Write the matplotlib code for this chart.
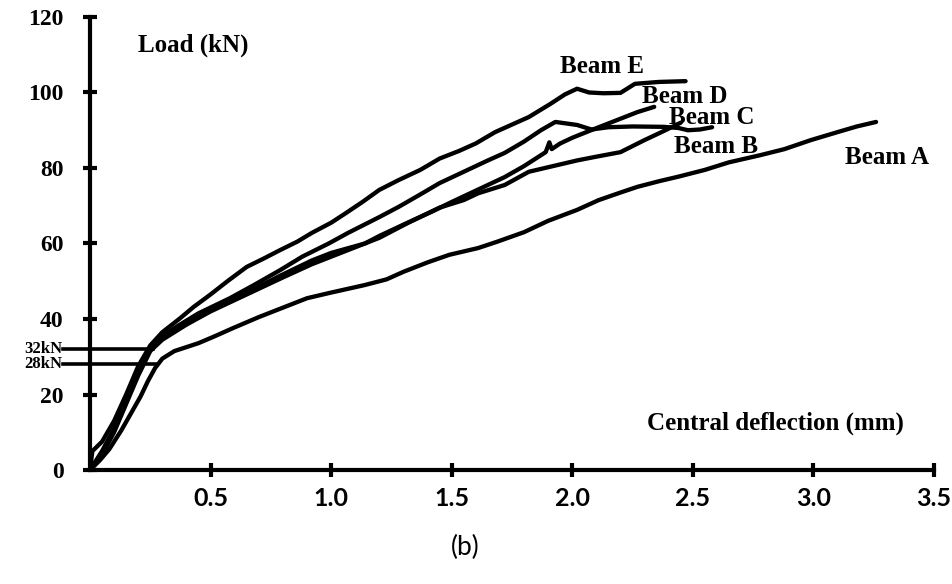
import matplotlib
matplotlib.use("Agg")
import matplotlib.pyplot as plt

# load-deflection curves (deflection mm, load kN)
beam_a_x = [0, 0.04, 0.08, 0.13, 0.17, 0.21, 0.24, 0.27, 0.3, 0.35, 0.45, 0.52, 0.59, 0.7, 0.8,
            0.9, 1.0, 1.14, 1.23, 1.3, 1.4, 1.49, 1.61, 1.69, 1.8, 1.9, 2.02, 2.11, 2.2, 2.27,
            2.36, 2.44, 2.55, 2.65, 2.78, 2.88, 2.99, 3.1, 3.18, 3.26]
beam_a_y = [0, 2.5, 5.5, 10.5, 15, 19.5, 23.5, 27, 29.5, 31.5, 33.6, 35.5, 37.5, 40.5, 43,
            45.5, 47, 49, 50.5, 52.5, 55, 57, 58.8, 60.5, 63, 66, 68.9, 71.5, 73.5, 75,
            76.5, 77.7, 79.5, 81.5, 83.4, 85, 87.4, 89.5, 91, 92.2]

beam_b_x = [0, 0.05, 0.1, 0.15, 0.2, 0.25, 0.3, 0.4, 0.5, 0.6, 0.7, 0.8, 0.92, 1.0, 1.1, 1.2,
            1.32, 1.45, 1.55, 1.61, 1.72, 1.82, 1.92, 2.02, 2.1, 2.2, 2.3, 2.37, 2.45]
beam_b_y = [0, 4, 10, 17.5, 25, 31.5, 34.5, 38.5, 42, 45, 48, 51, 54.5, 56.5, 59, 61.5,
            65.5, 69.5, 71.5, 73.3, 75.5, 79, 80.5, 82, 83, 84.2, 87.4, 89.5, 92]

beam_c_x = [0, 0.05, 0.1, 0.15, 0.2, 0.25, 0.3, 0.36, 0.45, 0.58, 0.68, 0.79, 0.88, 0.99, 1.07,
            1.2, 1.28, 1.37, 1.45, 1.55, 1.65, 1.72, 1.8, 1.87, 1.93, 2.02, 2.08, 2.15, 2.25,
            2.38, 2.44, 2.48, 2.53, 2.58]
beam_c_y = [0, 5, 11, 18.5, 26.5, 32.5, 35.5, 38, 41.5, 45.5, 49, 53, 56.5, 60, 62.8,
            67, 69.7, 73, 76, 79, 82, 84, 87, 90, 92.2, 91.4, 90.2, 90.8, 91,
            90.9, 90.6, 90, 90.2, 90.8]

beam_d_x = [0, 0.05, 0.1, 0.15, 0.2, 0.25, 0.32, 0.4, 0.5, 0.58, 0.65, 0.79, 0.92, 1.0, 1.14,
            1.2, 1.3, 1.42, 1.5, 1.6, 1.72, 1.8, 1.89, 1.905, 1.915, 1.95, 2.0, 2.07, 2.15,
            2.27, 2.34]
beam_d_y = [0, 4.5, 10.5, 18, 26, 32.5, 36, 39, 42.5, 45, 47, 51.5, 55.5, 57.5, 60,
            62, 65, 68.5, 71, 74, 77.6, 80.5, 84.2, 86.8, 85, 86.5, 88, 89.8, 91.8,
            94.8, 96.2]

beam_e_x = [0, 0.01, 0.05, 0.1, 0.15, 0.2, 0.25, 0.3, 0.37, 0.43, 0.5, 0.57, 0.65, 0.72, 0.79,
            0.86, 0.92, 1.0, 1.06, 1.13, 1.2, 1.28, 1.37, 1.45, 1.53, 1.6, 1.68, 1.75, 1.82,
            1.91, 1.97, 2.02, 2.07, 2.13, 2.2, 2.26, 2.36, 2.47]
beam_e_y = [0, 5, 7.5, 13, 20, 27.5, 33, 36.5, 40, 43.2, 46.5, 50, 53.8, 56, 58.3,
            60.5, 62.8, 65.5, 68, 71, 74.2, 76.8, 79.5, 82.5, 84.5, 86.5, 89.5, 91.5, 93.5,
            97, 99.5, 101, 100, 99.8, 99.9, 102.3, 102.8, 103]

beam_names = ["Beam A", "Beam B", "Beam C", "Beam D", "Beam E"]
label_x = [3.13, 2.42, 2.40, 2.29, 1.95]
label_y = [82.9, 85.8, 93.5, 99.0, 106.8]

marked_loads = [32, 28]
marked_ends = [0.26, 0.28]
x_ticks = [0.5, 1.0, 1.5, 2.0, 2.5, 3.0, 3.5]
y_ticks = [0, 20, 40, 60, 80, 100, 120]

serif = "Liberation Serif"

fig = plt.figure(figsize=(9.53, 5.84), dpi=100)
ax = fig.add_axes([0.0944, 0.1952, 0.8856, 0.7757])

curves = [(beam_a_x, beam_a_y), (beam_b_x, beam_b_y), (beam_c_x, beam_c_y),
          (beam_d_x, beam_d_y), (beam_e_x, beam_e_y)]
for xs, ys in curves:
    ax.plot(xs, ys, color="black", lw=3.1, solid_joinstyle="round", solid_capstyle="round")

for name, tx, ty in zip(beam_names, label_x, label_y):
    ax.text(tx, ty, name, fontsize=18, fontweight="bold", family=serif, va="center", ha="left")

# the two marked load levels
for load, x_end in zip(marked_loads, marked_ends):
    ax.plot([-0.11, x_end], [load, load], color="black", lw=2.6, clip_on=False)
    ax.text(-0.115, load, f"{load}kN", fontsize=12, fontweight="bold", family=serif,
            ha="right", va="center")

ax.text(0.20, 112.6, "Load (kN)", fontsize=18, fontweight="bold", family=serif, va="center")
ax.text(2.31, 12.5, "Central deflection (mm)", fontsize=18, fontweight="bold", family=serif,
        va="center")
fig.text(0.488, 0.062, "(b)", fontsize=19, family="Lato", ha="center", va="center")

ax.set_xlim(0, 3.5)
ax.set_ylim(0, 120)
for side in ["top", "right"]:
    ax.spines[side].set_visible(False)
for side in ["left", "bottom"]:
    ax.spines[side].set_linewidth(3.0)

ax.set_xticks(x_ticks)
ax.set_xticklabels([f"{t:.1f}" for t in x_ticks], fontsize=18, fontweight="bold", family="Lato")
ax.set_yticks(y_ticks)
ax.set_yticklabels([str(t) for t in y_ticks], fontsize=17, fontweight="bold", family=serif)
ax.tick_params(axis="both", direction="inout", length=10, width=3.0)
ax.tick_params(axis="x", pad=7)
ax.tick_params(axis="y", pad=14)

fig.savefig("out.png", dpi=100)
